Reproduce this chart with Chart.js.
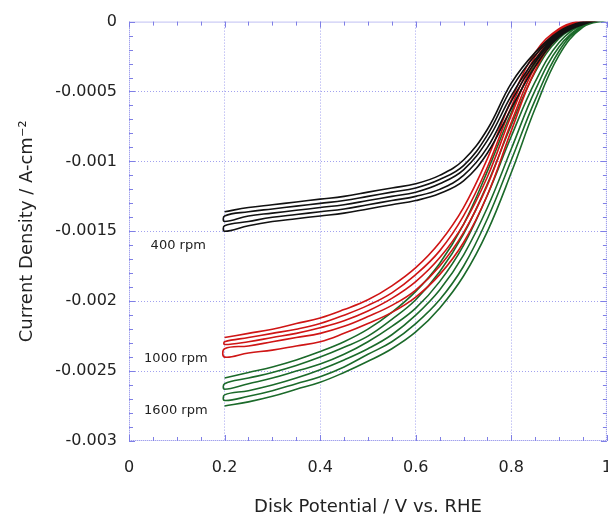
<!DOCTYPE html>
<html>
<head>
<meta charset="utf-8">
<script src="https://cdn.jsdelivr.net/npm/chart.js@4.4.0/dist/chart.umd.min.js"></script>
<style>
html, body { margin: 0; padding: 0; background: #fff; overflow: hidden; }
</style>
</head>
<body>
<canvas id="rde" width="629" height="515"></canvas>
<script>
var potential = [0.2, 0.25, 0.3, 0.35, 0.4, 0.45, 0.5, 0.55, 0.6, 0.65, 0.7, 0.75, 0.8, 0.85, 0.9, 0.95, 1.0];

// current density (A/cm2), one row per sweep, top to bottom
var rpm400 = [
  [-0.00136,-0.00133,-0.00131,-0.00129,-0.00127,-0.00125,-0.00122,-0.00119,-0.00116,-0.00110,-0.00099,-0.00077,-0.00044,-0.00022,-0.00007,0.00000,0.00003],
  [-0.00139,-0.00136,-0.00134,-0.00132,-0.00130,-0.00128,-0.00125,-0.00122,-0.00119,-0.00113,-0.00103,-0.00081,-0.00048,-0.00024,-0.00008,0.00000,0.00003],
  [-0.00143,-0.00139,-0.00137,-0.00135,-0.00133,-0.00131,-0.00128,-0.00125,-0.00122,-0.00116,-0.00106,-0.00085,-0.00053,-0.00027,-0.00009,-0.00001,0.00002],
  [-0.00146,-0.00143,-0.00140,-0.00138,-0.00136,-0.00134,-0.00131,-0.00128,-0.00125,-0.00120,-0.00110,-0.00090,-0.00057,-0.00029,-0.00010,-0.00001,0.00002],
  [-0.00150,-0.00146,-0.00143,-0.00141,-0.00139,-0.00137,-0.00134,-0.00131,-0.00128,-0.00123,-0.00114,-0.00094,-0.00062,-0.00032,-0.00011,-0.00002,0.00002]
];
var rpm1000 = [
  [-0.00226,-0.00223,-0.00220,-0.00216,-0.00212,-0.00206,-0.00199,-0.00189,-0.00176,-0.00158,-0.00133,-0.00098,-0.00056,-0.00022,-0.00005,0.00001,0.00003],
  [-0.00229,-0.00226,-0.00223,-0.00220,-0.00216,-0.00210,-0.00203,-0.00194,-0.00181,-0.00164,-0.00139,-0.00104,-0.00061,-0.00025,-0.00006,0.00001,0.00003],
  [-0.00231,-0.00229,-0.00226,-0.00223,-0.00219,-0.00214,-0.00207,-0.00198,-0.00186,-0.00169,-0.00145,-0.00111,-0.00067,-0.00028,-0.00007,0.00000,0.00003],
  [-0.00234,-0.00232,-0.00229,-0.00226,-0.00223,-0.00218,-0.00211,-0.00203,-0.00192,-0.00175,-0.00151,-0.00117,-0.00072,-0.00032,-0.00009,-0.00001,0.00002],
  [-0.00240,-0.00237,-0.00235,-0.00232,-0.00229,-0.00223,-0.00216,-0.00208,-0.00197,-0.00181,-0.00158,-0.00124,-0.00078,-0.00035,-0.00010,-0.00001,0.00002]
];
var rpm1600 = [
  [-0.00255,-0.00251,-0.00247,-0.00242,-0.00236,-0.00229,-0.00220,-0.00208,-0.00193,-0.00173,-0.00145,-0.00107,-0.00065,-0.00030,-0.00009,-0.00001,0.00003],
  [-0.00259,-0.00255,-0.00251,-0.00246,-0.00240,-0.00233,-0.00225,-0.00213,-0.00199,-0.00179,-0.00152,-0.00116,-0.00074,-0.00036,-0.00012,-0.00002,0.00003],
  [-0.00263,-0.00259,-0.00255,-0.00250,-0.00245,-0.00238,-0.00229,-0.00218,-0.00205,-0.00186,-0.00160,-0.00124,-0.00082,-0.00043,-0.00015,-0.00002,0.00002],
  [-0.00267,-0.00264,-0.00260,-0.00255,-0.00249,-0.00242,-0.00234,-0.00224,-0.00210,-0.00192,-0.00167,-0.00133,-0.00091,-0.00049,-0.00018,-0.00003,0.00002],
  [-0.00271,-0.00268,-0.00264,-0.00259,-0.00254,-0.00247,-0.00238,-0.00229,-0.00216,-0.00199,-0.00175,-0.00141,-0.00099,-0.00056,-0.00021,-0.00003,0.00001],
  [-0.00275,-0.00272,-0.00268,-0.00263,-0.00258,-0.00251,-0.00243,-0.00234,-0.00222,-0.00205,-0.00182,-0.00150,-0.00108,-0.00062,-0.00024,-0.00004,0.00001]
];

var xTicks = [0, 0.2, 0.4, 0.6, 0.8, 1];
var yTicks = [0, -0.0005, -0.001, -0.0015, -0.002, -0.0025, -0.003];

var rpmNames = ['400 rpm', '1000 rpm', '1600 rpm'];
var rpmNameX = [0.103, 0.098, 0.098];
var rpmNameY = [-0.0016, -0.00241, -0.00278];

var fontName = "'DejaVu Sans', Verdana, sans-serif";

// join the sweeps into one back-and-forth path, like the real CV
function cvPath(sweeps) {
  var pts = [];
  sweeps.forEach(function (row, i) {
    var idx = potential.map(function (p, j) { return j; });
    if (i % 2 === 1) idx.reverse();
    idx.forEach(function (j) {
      pts.push({ x: potential[j], y: row[j] });
    });
  });
  return pts;
}

function cvSet(label, sweeps, color) {
  return {
    label: label,
    data: cvPath(sweeps),
    showLine: true,
    borderColor: color,
    borderWidth: 1.6,
    pointRadius: 0,
    tension: 0.4,
    fill: false
  };
}

var rdeFrame = {
  id: 'rdeFrame',
  beforeDatasetsDraw: function (chart) {
    var ctx = chart.ctx, a = chart.chartArea;
    var sx = chart.scales.x, sy = chart.scales.y;
    ctx.save();
    ctx.strokeStyle = '#7f7fe6';
    ctx.lineWidth = 1;
    ctx.setLineDash([1, 1]);
    ctx.strokeRect(a.left + 0.5, a.top + 0.5, a.right - a.left - 1, a.bottom - a.top - 1);
    ctx.setLineDash([]);
    ctx.beginPath();
    for (var i = 0; i <= 20; i++) {
      var px = Math.round(sx.getPixelForValue(i / 20)) + 0.5;
      var len = i % 4 === 0 ? 6 : 4;
      ctx.moveTo(px, a.bottom); ctx.lineTo(px, a.bottom - len);
      ctx.moveTo(px, a.top); ctx.lineTo(px, a.top + len);
    }
    for (var k = 0; k <= 30; k++) {
      var py = Math.round(sy.getPixelForValue(-k / 10000)) + 0.5;
      var l2 = k % 5 === 0 ? 6 : 4;
      ctx.moveTo(a.left, py); ctx.lineTo(a.left + l2, py);
      ctx.moveTo(a.right, py); ctx.lineTo(a.right - l2, py);
    }
    ctx.stroke();
    ctx.restore();
  },
  afterDatasetsDraw: function (chart) {
    var ctx = chart.ctx;
    var sx = chart.scales.x, sy = chart.scales.y;
    ctx.save();
    ctx.fillStyle = '#222';
    ctx.font = "13px " + fontName;
    ctx.textAlign = 'center';
    ctx.textBaseline = 'middle';
    rpmNames.forEach(function (t, i) {
      ctx.fillText(t, sx.getPixelForValue(rpmNameX[i]), sy.getPixelForValue(rpmNameY[i]));
    });
    ctx.restore();
  }
};

var rde_chart = new Chart(document.getElementById('rde').getContext('2d'), {
  type: 'scatter',
  data: {
    datasets: [
      cvSet('400 rpm', rpm400, '#111111'),
      cvSet('1000 rpm', rpm1000, '#cf1515'),
      cvSet('1600 rpm', rpm1600, '#1b6a2a')
    ]
  },
  options: {
    responsive: false,
    animation: false,
    layout: { padding: { left: 0, right: 0, top: 21, bottom: 0 } },
    plugins: {
      legend: { display: false },
      tooltip: { enabled: false }
    },
    scales: {
      x: {
        type: 'linear',
        min: 0,
        max: 1,
        afterFit: function (s) { s.height = 74; },
        afterBuildTicks: function (s) { s.ticks = xTicks.map(function (v) { return { value: v }; }); },
        ticks: {
          padding: 17,
          color: '#222',
          font: { family: fontName, size: 16 },
          callback: function (v) { return String(v); }
        },
        grid: {
          drawTicks: false,
          color: function (c) { return (c.tick && (c.tick.value === 0 || c.tick.value === 1)) ? 'rgba(0,0,0,0)' : '#a2a2ef'; }
        },
        border: { display: false, dash: [1, 2] },
        title: {
          display: true,
          text: 'Disk Potential / V vs. RHE',
          color: '#222',
          font: { family: fontName, size: 18, lineHeight: 0.9 },
          padding: { top: 0, bottom: 0 }
        }
      },
      y: {
        type: 'linear',
        min: -0.003,
        max: 0,
        afterFit: function (s) { s.width = 129; },
        afterBuildTicks: function (s) { s.ticks = yTicks.map(function (v) { return { value: v }; }); },
        ticks: {
          padding: 12,
          color: '#222',
          font: { family: fontName, size: 16 },
          callback: function (v) { return String(v); }
        },
        grid: {
          drawTicks: false,
          color: function (c) { return (c.tick && (c.tick.value === 0 || c.tick.value === -0.003)) ? 'rgba(0,0,0,0)' : '#a2a2ef'; }
        },
        border: { display: false, dash: [1, 2] },
        title: {
          display: true,
          text: 'Current Density / A-cm⁻²',
          color: '#222',
          font: { family: fontName, size: 18 },
          padding: { top: 17, bottom: 0 }
        }
      }
    }
  },
  plugins: [rdeFrame]
});
</script>
</body>
</html>
